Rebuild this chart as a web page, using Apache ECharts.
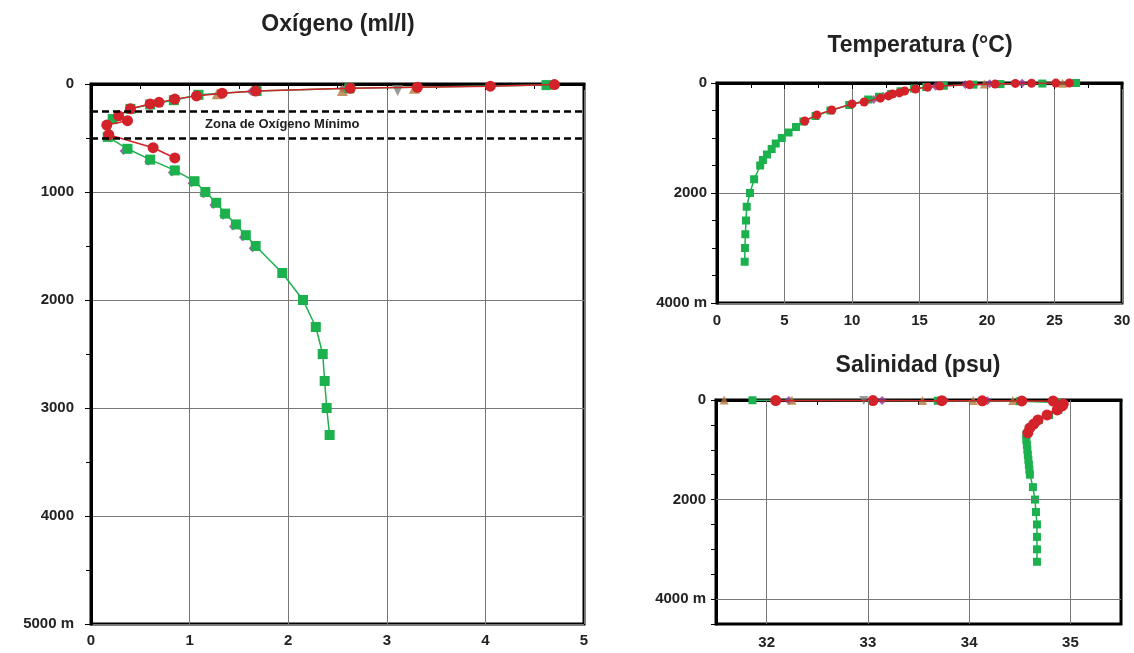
<!DOCTYPE html>
<html>
<head>
<meta charset="utf-8">
<script src="https://cdn.jsdelivr.net/npm/echarts@6/dist/echarts.min.js"></script>
<style>
html, body { margin: 0; padding: 0; background: #fff; }
#chart { width: 1134px; height: 653px; }
</style>
</head>
<body>
<div id="chart"></div>
<script>
// ---- Oxígeno (ml/l) ----
var oxyRedDepth = [5, 20, 30, 40, 65, 85, 110, 140, 170, 185, 230, 295, 340, 380, 470, 590, 685];
var oxyRedValue = [4.7, 4.05, 3.31, 2.63, 1.67, 1.33, 1.07, 0.85, 0.69, 0.60, 0.40, 0.28, 0.37, 0.16, 0.18, 0.63, 0.85];
var oxyGreenDepth = [10, 40, 65, 100, 150, 190, 230, 325, 490, 600, 700, 800, 900, 1000, 1100, 1200, 1300, 1400, 1500, 1750, 2000, 2250, 2500, 2750, 3000, 3250];
var oxyGreenValue = [4.62, 2.62, 1.68, 1.09, 0.84, 0.6, 0.4, 0.22, 0.17, 0.37, 0.6, 0.85, 1.05, 1.16, 1.27, 1.36, 1.47, 1.57, 1.67, 1.94, 2.15, 2.28, 2.35, 2.37, 2.39, 2.42];
var oxyPurpleDepth = [45, 70, 620, 720, 820, 920, 1020, 1120, 1220, 1320, 1420, 1520];
var oxyPurpleValue = [2.55, 1.62, 0.33, 0.58, 0.82, 1.02, 1.14, 1.24, 1.34, 1.44, 1.54, 1.64];
var oxyBrownDepth = [40, 60, 90];
var oxyBrownValue = [3.28, 2.55, 1.28];
var oxyGrayDepth = [60];
var oxyGrayValue = [3.11];
var oxyZoneDepth = [250, 500];

// ---- Temperatura (°C) ----
var tmpRedDepth = [0, 2, 5, 8, 20, 30, 55, 75, 110, 145, 180, 200, 235, 275, 345, 380, 490, 580, 690];
var tmpRedValue = [26.1, 25.1, 23.3, 22.1, 20.6, 18.7, 16.5, 15.6, 14.7, 13.9, 13.5, 13.0, 12.7, 12.1, 10.9, 10.0, 8.5, 7.4, 6.5];
var tmpGreenDepth = [0, 10, 20, 30, 50, 75, 100, 150, 200, 250, 300, 400, 500, 600, 700, 800, 900, 1000, 1100, 1200, 1300, 1400, 1500, 1750, 2000, 2250, 2500, 2750, 3000, 3250];
var tmpGreenValue = [26.6, 24.1, 21.0, 19.0, 16.8, 15.5, 14.6, 13.6, 12.9, 12.0, 11.2, 9.8, 8.4, 7.3, 6.4, 5.85, 5.3, 4.8, 4.35, 4.05, 3.7, 3.4, 3.2, 2.75, 2.44, 2.2, 2.15, 2.1, 2.07, 2.05];
var tmpPurpleDepth = [5, 12, 25, 60, 240, 300];
var tmpPurpleValue = [22.6, 20.2, 18.4, 16.2, 12.3, 11.6];
var tmpBrownDepth = [3, 18];
var tmpBrownValue = [25.6, 19.8];

// ---- Salinidad (psu) ----
var salRedDepth = [10, 12, 14, 16, 18, 20, 80, 120, 200, 300, 400, 480, 560, 660];
var salRedValue = [32.09, 33.05, 33.73, 34.13, 34.52, 34.83, 34.93, 34.92, 34.87, 34.77, 34.68, 34.64, 34.6, 34.58];
var salGreenDepth = [5, 15, 25, 50, 100, 200, 300, 400, 500, 600, 700, 800, 900, 1000, 1100, 1200, 1300, 1400, 1500, 1750, 2000, 2250, 2500, 2750, 3000, 3250];
var salGreenValue = [31.86, 33.69, 34.5, 34.88, 34.93, 34.88, 34.79, 34.69, 34.63, 34.59, 34.565, 34.565, 34.57, 34.575, 34.58, 34.585, 34.59, 34.595, 34.6, 34.63, 34.65, 34.66, 34.67, 34.67, 34.67, 34.67];
var salPurpleDepth = [8, 10, 12, 14];
var salPurpleValue = [32.22, 33.14, 33.76, 34.18];
var salBrownDepth = [2, 5, 8, 10, 12];
var salBrownValue = [31.58, 32.25, 33.54, 34.04, 34.43];
var salGrayDepth = [10];
var salGrayValue = [32.96];
var salGridX = [32, 33, 34, 35];
var salGridY = [2000, 4000];

var RED = '#d3222a', GREEN = '#1bb14c', PURPLE = '#9a36a0', BROWN = '#b7783c', GRAY = '#808080';
var FONT = "'Liberation Sans', Arial, sans-serif";

function pairs(vals, depths) {
  return vals.map(function (v, i) { return [v, depths[i]]; });
}

var labelStyle = { color: '#222', fontSize: 15, fontWeight: 'bold', fontFamily: FONT };
var blackLine = { show: true, lineStyle: { color: '#000', width: 3 } };
var tickStyle = { show: true, length: 6, lineStyle: { color: '#000', width: 1 } };
var gridLine = { show: true, lineStyle: { color: '#777', width: 1 } };

function lineSeries(name, x, y, vals, depths, color, symbol, size, z) {
  return {
    name: name, type: 'line', xAxisIndex: x, yAxisIndex: y,
    data: pairs(vals, depths),
    symbol: symbol, symbolSize: size, showSymbol: true,
    itemStyle: { color: color },
    lineStyle: { color: color, width: 1.5 },
    z: z, animation: false
  };
}
function dotSeries(name, x, y, vals, depths, color, symbol, size, rotate, z) {
  return {
    name: name, type: 'scatter', xAxisIndex: x, yAxisIndex: y,
    data: pairs(vals, depths),
    symbol: symbol, symbolSize: size, symbolRotate: rotate,
    itemStyle: { color: color },
    z: z, animation: false
  };
}

var chart = echarts.init(document.getElementById('chart'));

var option = {
  animation: false,
  title: [
    { text: 'Oxígeno (ml/l)', left: 333, top: 8, textAlign: 'center',
      textStyle: { fontSize: 23, fontWeight: 'bold', color: '#222', fontFamily: FONT } },
    { text: 'Temperatura (°C)', left: 915, top: 29, textAlign: 'center',
      textStyle: { fontSize: 23, fontWeight: 'bold', color: '#222', fontFamily: FONT } },
    { text: 'Salinidad (psu)', left: 913, top: 349, textAlign: 'center',
      textStyle: { fontSize: 23, fontWeight: 'bold', color: '#222', fontFamily: FONT } }
  ],
  grid: [
    { left: 91, top: 84, width: 493, height: 540, show: true, borderColor: '#000', borderWidth: 3 },
    { left: 717, top: 83, width: 405, height: 220, show: true, borderColor: '#000', borderWidth: 3 },
    { left: 716, top: 400, width: 405, height: 224, show: true, borderColor: '#000', borderWidth: 3 }
  ],
  xAxis: [
    { type: 'value', gridIndex: 0, min: 0, max: 5, interval: 1, position: 'bottom',
      axisLine: blackLine, axisTick: tickStyle,
      minorTick: { show: true, splitNumber: 2, length: 5, lineStyle: { color: '#000' } },
      axisLabel: Object.assign({ margin: 9 }, labelStyle), splitLine: gridLine },
    { type: 'value', gridIndex: 1, min: 0, max: 30, interval: 5, position: 'bottom',
      axisLine: blackLine, axisTick: tickStyle,
      minorTick: { show: true, splitNumber: 2, length: 5, lineStyle: { color: '#000' } },
      axisLabel: Object.assign({ margin: 10 }, labelStyle), splitLine: gridLine },
    { type: 'value', gridIndex: 2, min: 31.5, max: 35.5, interval: 0.5, position: 'bottom',
      axisLine: blackLine, axisTick: { show: true, length: 5, lineStyle: { color: '#000' } },
      axisLabel: Object.assign({ margin: 11, formatter: function (v) {
        return Math.abs(v - Math.round(v)) < 1e-6 ? String(Math.round(v)) : '';
      } }, labelStyle),
      splitLine: { show: false } }
  ],
  yAxis: [
    { type: 'value', gridIndex: 0, min: 0, max: 5000, interval: 1000, inverse: true,
      axisLine: blackLine, axisTick: tickStyle,
      minorTick: { show: true, splitNumber: 2, length: 5, lineStyle: { color: '#000' } },
      axisLabel: Object.assign({ margin: 17, formatter: function (v) {
        return v === 5000 ? '5000 m' : String(v);
      } }, labelStyle), splitLine: gridLine },
    { type: 'value', gridIndex: 1, min: 0, max: 4000, interval: 2000, inverse: true,
      axisLine: blackLine, axisTick: tickStyle,
      minorTick: { show: true, splitNumber: 4, length: 5, lineStyle: { color: '#000' } },
      axisLabel: Object.assign({ margin: 10, formatter: function (v) {
        return v === 4000 ? '4000 m' : String(v);
      } }, labelStyle), splitLine: gridLine },
    { type: 'value', gridIndex: 2, min: 0, max: 4500, interval: 500, inverse: true,
      axisLine: blackLine, axisTick: { show: true, length: 5, lineStyle: { color: '#000' } },
      axisLabel: Object.assign({ margin: 10, formatter: function (v) {
        if (v === 4000) return '4000 m';
        if (v === 0 || v === 2000) return String(v);
        return '';
      } }, labelStyle), splitLine: { show: false } }
  ],
  graphic: [
    { type: 'text', left: 205, top: 118, z: 100,
      style: { text: 'Zona de Oxígeno Mínimo', fill: '#222',
        font: "bold 13px 'Liberation Sans', Arial, sans-serif" } }
  ],
  series: [
    // oxygen
    {
      type: 'line', xAxisIndex: 0, yAxisIndex: 0, data: [], z: 1, silent: true,
      markLine: {
        silent: true, symbol: 'none', label: { show: false }, animation: false,
        lineStyle: { color: '#000', width: 2.5, type: [7, 4] },
        data: oxyZoneDepth.map(function (d) { return { yAxis: d }; })
      }
    },
    dotSeries('oxy-purple', 0, 0, oxyPurpleValue, oxyPurpleDepth, PURPLE, 'diamond', 8, 0, 2),
    dotSeries('oxy-brown', 0, 0, oxyBrownValue, oxyBrownDepth, BROWN, 'triangle', 11, 0, 2),
    dotSeries('oxy-gray', 0, 0, oxyGrayValue, oxyGrayDepth, GRAY, 'triangle', 11, 180, 2),
    lineSeries('oxy-green', 0, 0, oxyGreenValue, oxyGreenDepth, GREEN, 'rect', 10, 3),
    lineSeries('oxy-red', 0, 0, oxyRedValue, oxyRedDepth, RED, 'circle', 11, 4),
    // temperature
    dotSeries('tmp-purple', 1, 1, tmpPurpleValue, tmpPurpleDepth, PURPLE, 'diamond', 9, 0, 2),
    dotSeries('tmp-brown', 1, 1, tmpBrownValue, tmpBrownDepth, BROWN, 'triangle', 9, 0, 2),
    lineSeries('tmp-green', 1, 1, tmpGreenValue, tmpGreenDepth, GREEN, 'rect', 8, 3),
    lineSeries('tmp-red', 1, 1, tmpRedValue, tmpRedDepth, RED, 'circle', 9, 4),
    // salinity
    {
      type: 'line', xAxisIndex: 2, yAxisIndex: 2, data: [], z: 1, silent: true,
      markLine: {
        silent: true, symbol: 'none', label: { show: false }, animation: false,
        lineStyle: { color: '#777', width: 1, type: 'solid' },
        data: salGridX.map(function (v) { return { xAxis: v }; })
          .concat(salGridY.map(function (d) { return { yAxis: d }; }))
      }
    },
    dotSeries('sal-purple', 2, 2, salPurpleValue, salPurpleDepth, PURPLE, 'diamond', 9, 0, 2),
    dotSeries('sal-brown', 2, 2, salBrownValue, salBrownDepth, BROWN, 'triangle', 9, 0, 2),
    dotSeries('sal-gray', 2, 2, salGrayValue, salGrayDepth, GRAY, 'triangle', 9, 180, 2),
    lineSeries('sal-green', 2, 2, salGreenValue, salGreenDepth, GREEN, 'rect', 8, 3),
    lineSeries('sal-red', 2, 2, salRedValue, salRedDepth, RED, 'circle', 11, 4)
  ]
};

chart.setOption(option);
</script>
</body>
</html>
